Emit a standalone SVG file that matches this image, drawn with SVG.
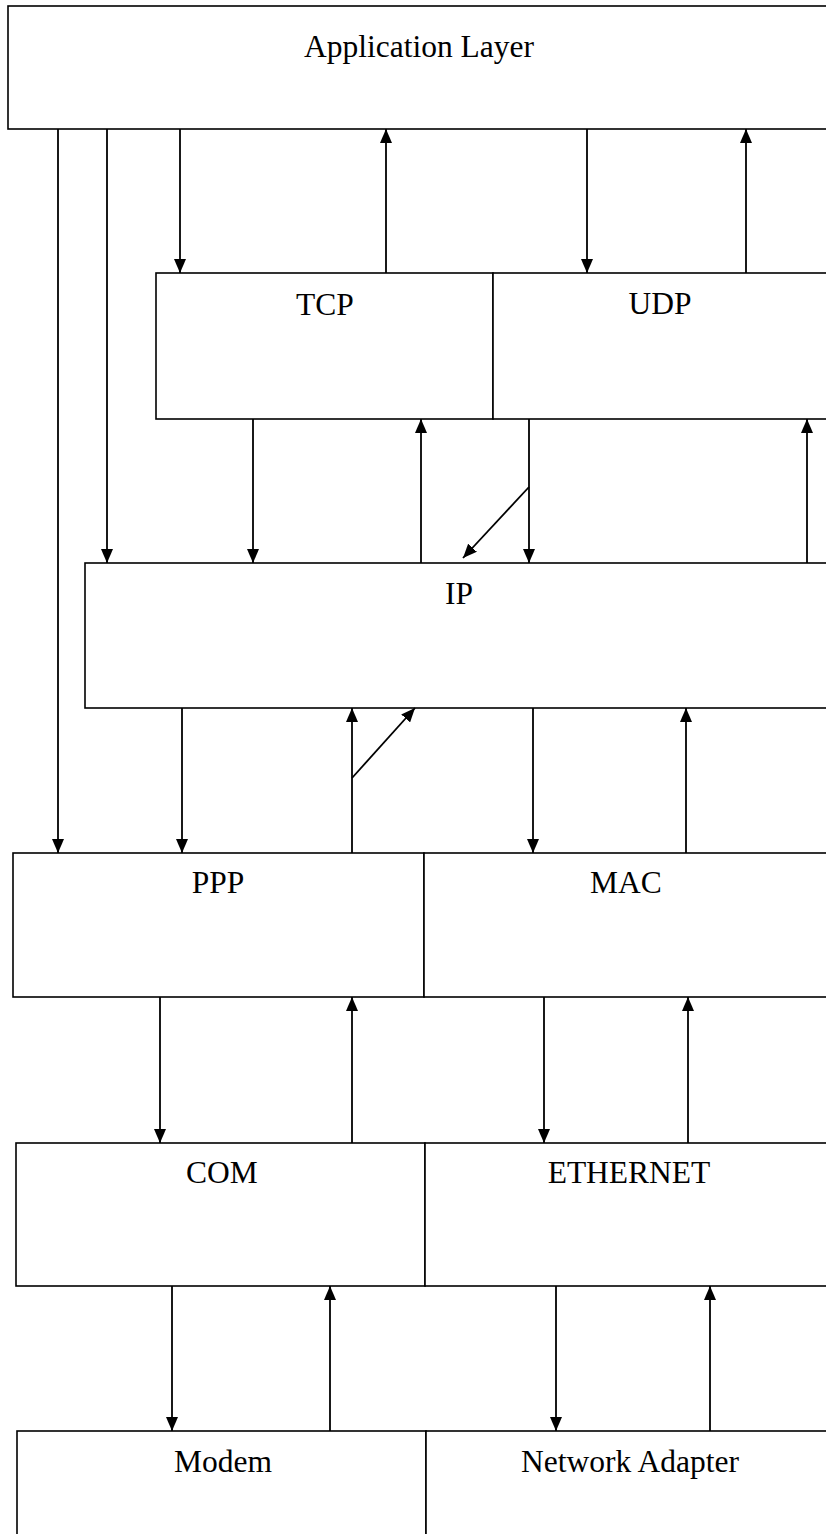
<svg xmlns="http://www.w3.org/2000/svg" width="826" height="1534" viewBox="0 0 826 1534">
<style>
.box{fill:#fff;stroke:#000;stroke-width:1.6}
.lbl{font-family:"Liberation Serif","Times New Roman",serif;font-size:31.5px;fill:#000;text-anchor:middle}
.c{stroke:#000;stroke-width:1.8;fill:none;marker-end:url(#ah)}
</style>
<defs>
<marker id="ah" markerUnits="userSpaceOnUse" markerWidth="14" markerHeight="12" refX="14" refY="6" orient="auto">
<path d="M0,0 L14,6 L0,12 z" fill="#000"/>
</marker>
</defs>
<rect width="826" height="1534" fill="#fff"/>
<g id="app"><rect class="box" x="8" y="6" width="840" height="123"/><text class="lbl" x="419" y="57">Application Layer</text></g>
<g id="tcp"><rect class="box" x="156" y="273" width="337" height="146"/><text class="lbl" x="325" y="315">TCP</text></g>
<g id="udp"><rect class="box" x="493" y="273" width="360" height="146"/><text class="lbl" x="660" y="314">UDP</text></g>
<g id="ip"><rect class="box" x="85" y="563" width="770" height="145"/><text class="lbl" x="459" y="604">IP</text></g>
<g id="ppp"><rect class="box" x="13" y="853" width="411" height="144"/><text class="lbl" x="218" y="893">PPP</text></g>
<g id="mac"><rect class="box" x="424" y="853" width="430" height="144"/><text class="lbl" x="626" y="893">MAC</text></g>
<g id="com"><rect class="box" x="16" y="1143" width="409" height="143"/><text class="lbl" x="222" y="1183">COM</text></g>
<g id="ethernet"><rect class="box" x="425" y="1143" width="430" height="143"/><text class="lbl" x="629" y="1183">ETHERNET</text></g>
<g id="modem"><rect class="box" x="17" y="1431" width="409" height="140"/><text class="lbl" x="223" y="1472">Modem</text></g>
<g id="adapter"><rect class="box" x="426" y="1431" width="430" height="140"/><text class="lbl" x="630" y="1472">Network Adapter</text></g>
<g id="connectors">
<line class="c" x1="58" y1="129" x2="58" y2="853"/>
<line class="c" x1="107" y1="129" x2="107" y2="563"/>
<line class="c" x1="180" y1="129" x2="180" y2="273"/>
<line class="c" x1="386" y1="273" x2="386" y2="129"/>
<line class="c" x1="587" y1="129" x2="587" y2="273"/>
<line class="c" x1="746" y1="273" x2="746" y2="129"/>
<line class="c" x1="253" y1="419" x2="253" y2="563"/>
<line class="c" x1="421" y1="563" x2="421" y2="419"/>
<line class="c" x1="529" y1="419" x2="529" y2="563"/>
<line class="c" x1="529" y1="487" x2="463" y2="558"/>
<line class="c" x1="807" y1="563" x2="807" y2="419"/>
<line class="c" x1="182" y1="708" x2="182" y2="853"/>
<line class="c" x1="352" y1="853" x2="352" y2="708"/>
<line class="c" x1="352" y1="778" x2="415" y2="708"/>
<line class="c" x1="533" y1="708" x2="533" y2="853"/>
<line class="c" x1="686" y1="853" x2="686" y2="708"/>
<line class="c" x1="160" y1="997" x2="160" y2="1143"/>
<line class="c" x1="352" y1="1143" x2="352" y2="997"/>
<line class="c" x1="544" y1="997" x2="544" y2="1143"/>
<line class="c" x1="688" y1="1143" x2="688" y2="997"/>
<line class="c" x1="172" y1="1286" x2="172" y2="1431"/>
<line class="c" x1="330" y1="1431" x2="330" y2="1286"/>
<line class="c" x1="556" y1="1286" x2="556" y2="1431"/>
<line class="c" x1="710" y1="1431" x2="710" y2="1286"/>
</g>
</svg>
